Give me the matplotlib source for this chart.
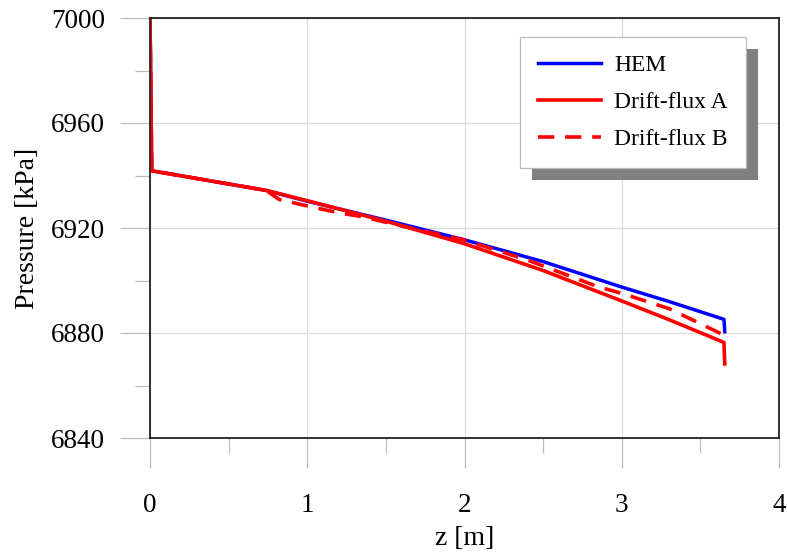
import matplotlib
matplotlib.use('Agg')
import numpy as np
import matplotlib.pyplot as plt
from matplotlib.patches import Rectangle

# data
z_hem = [0.0, 0.011, 0.74, 1.0, 1.5, 2.0, 2.5, 3.0, 3.3, 3.65, 3.655]
p_hem = [7000, 6941.8, 6934.3, 6930.2, 6923.0, 6915.5, 6907.2, 6897.5, 6892.0, 6885.2, 6880.5]

z_a = [0.0, 0.011, 0.74, 1.0, 1.5, 2.0, 2.5, 3.0, 3.3, 3.65, 3.655]
p_a = [7000, 6941.8, 6934.3, 6930.4, 6922.6, 6914.0, 6903.8, 6892.2, 6885.1, 6876.4, 6868.2]

z_b = [0.0, 0.011, 0.74, 0.82, 1.0, 1.2, 1.35, 1.6, 2.0, 2.4, 2.85, 3.0, 3.3, 3.65, 3.655]
p_b = [7000, 6941.8, 6934.3, 6930.9, 6928.4, 6925.8, 6924.3, 6920.8, 6915.4, 6907.8, 6897.6, 6895.1, 6889.3, 6879.2, 6877.5]

labels = ['HEM', 'Drift-flux A', 'Drift-flux B']

plt.rcParams['font.family'] = ['Liberation Serif', 'DejaVu Serif']
plt.rcParams['font.size'] = 19.5

fig = plt.figure(figsize=(7.87, 5.53), dpi=100)
ax = fig.add_axes([150/787, 1 - 438/553, 629/787, 420/553])

ax.plot(z_hem, p_hem, color='#0000ff', lw=2.5, label=labels[0])
ax.plot(z_a, p_a, color='#ff0000', lw=2.6, label=labels[1])
ax.plot(z_b, p_b, color='#ff0000', lw=2.6, ls=(0, (4.5, 3)), label=labels[2])

ax.set_xlim(0, 4)
ax.set_ylim(6840, 7000)
ax.set_xticks(np.arange(0, 5, 1))
ax.set_xticks(np.arange(0.5, 4, 1), minor=True)
ax.set_yticks(np.arange(6840, 7001, 40))
ax.set_yticks(np.arange(6860, 7000, 40), minor=True)
ax.grid(True, which='major', color='#dcdcdc', lw=0.9)
ax.set_axisbelow(True)
ax.tick_params(which='major', length=21.5, width=0.9, color='#bdbdbd')
ax.tick_params(which='minor', length=10.5, width=0.9, color='#bdbdbd')
ax.tick_params(axis='x', which='major', pad=18)
ax.tick_params(axis='y', which='major', pad=11)
for s in ax.spines.values():
    s.set_linewidth(1.3)
    s.set_color('#222222')

ax.set_xlabel('z [m]', fontsize=20, labelpad=6)
ax.set_ylabel('Pressure [kPa]', fontsize=20, labelpad=8)

leg = ax.legend(loc='upper left', bbox_to_anchor=(0.588, 0.955), borderaxespad=0,
                fancybox=False, framealpha=1, edgecolor='#bbbbbb',
                handlelength=2.7, handletextpad=0.55, labelspacing=0.66,
                borderpad=0.75, fontsize=17)
leg.get_frame().set_linewidth(0.9)
leg.set_zorder(5)

fig.canvas.draw()
bb = leg.get_window_extent().transformed(fig.transFigure.inverted())
dx, dy = 12/787, 12/553
shadow = Rectangle((bb.x0 + dx, bb.y0 - dy), bb.width, bb.height,
                   transform=fig.transFigure, facecolor='#808080',
                   edgecolor='none', zorder=4)
ax.add_artist(shadow)

fig.savefig('out.png', dpi=100)
